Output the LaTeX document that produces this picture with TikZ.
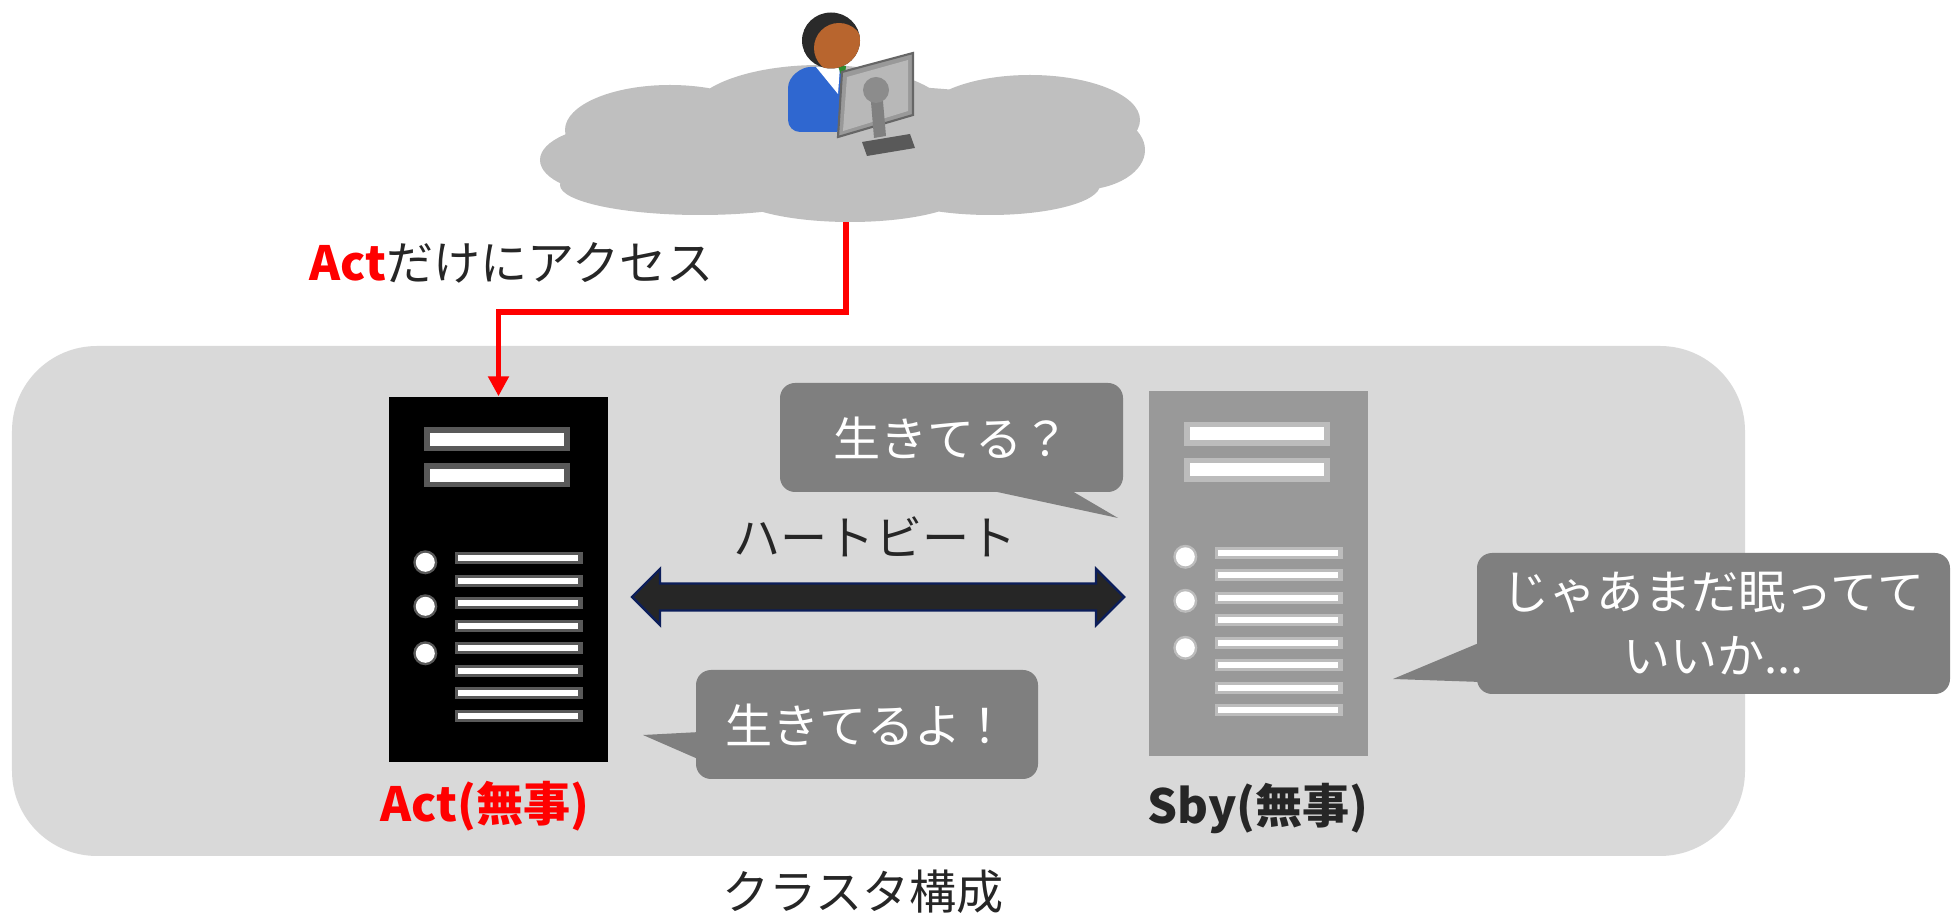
\documentclass[tikz,border=0pt]{standalone}
\usepackage{fontspec}
\setmainfont{Noto Sans CJK JP}
\usepackage{xcolor}
\usetikzlibrary{positioning, calc, arrows.meta}

\definecolor{clustergray}{HTML}{D9D9D9}
\definecolor{cloudgray}{HTML}{BFBFBF}
\definecolor{bubblegray}{HTML}{7F7F7F}
\definecolor{sbygray}{HTML}{999999}
\definecolor{txtgray}{HTML}{262626}
\definecolor{hbedge}{HTML}{0C1E5A}
\definecolor{accessred}{HTML}{FF0000}
\definecolor{bodyblue}{HTML}{2F67D0}
\definecolor{facebrown}{HTML}{B8652E}
\definecolor{hairblack}{HTML}{2A2A2A}
\definecolor{tiegreen}{HTML}{2E8B2E}

% frente do servidor (origem no canto superior esquerdo)
\tikzset{
  srvface/.pic={
    % barras do topo
    \foreach \yy in {0.43,0.79}{
      \fill[white, opacity=0.35] (0.36,-\yy+0.12) rectangle (1.82,-\yy-0.12);
      \fill[white] (0.42,-\yy+0.065) rectangle (1.76,-\yy-0.065);
    }
    % luzes
    \foreach \yy in {1.66,2.10,2.57}{
      \fill[white, opacity=0.35] (0.37,-\yy) circle (0.12);
      \fill[white] (0.37,-\yy) circle (0.095);
    }
    % ranhuras
    \foreach \i in {0,...,7}{
      \pgfmathsetmacro\yy{1.62+0.225*\i}
      \fill[white, opacity=0.35] (0.67,-\yy+0.06) rectangle (1.95,-\yy-0.06);
      \fill[white] (0.70,-\yy+0.03) rectangle (1.90,-\yy-0.03);
    }
  }
}

\begin{document}
\begin{tikzpicture}[font=\fontsize{13.4}{18.4}\selectfont, text=txtgray,
    srv/.style={minimum width=2.19cm, minimum height=3.65cm, inner sep=0},
    srvname/.style={font=\fontsize{13.4}{16}\selectfont\bfseries},
    bubble/.style={fill=bubblegray, rounded corners=0.15cm, text=white, inner sep=0, align=center},
    access/.style={draw=accessred, line width=1.7pt, -{Triangle[length=0.2cm, width=0.2cm]}}]

    \useasboundingbox (0,0) rectangle (19.51,9.12);

    % Cluster
    \node[fill=clustergray, rounded corners=0.85cm, minimum width=17.33cm, minimum height=5.10cm, inner sep=0] (cluster) at (8.785,3.11) {};
    \node (clustername) at (8.63,0.20) {クラスタ構成};

    % Servidores
    \node[srv, fill=black] (act) at (4.985,3.325) {};
    \node[srv, fill=sbygray] (sby) at (12.585,3.38) {};
    \pic at (act.north west) {srvface};
    \pic at (sby.north west) {srvface};
    \node[srvname, text=accessred] (actname) at (4.85,1.06) {Act(無事)};
    \node[srvname] (sbyname) at (12.58,1.03) {Sby(無事)};

    % Acesso
    \coordinate (cloudbottom) at (8.46,7.05);
    \node[anchor=base west] (accesslabel) at (2.97,6.31) {\textbf{\textcolor{accessred}{Act}}だけにアクセス};
    \draw[access] (cloudbottom) |- ($(act.north)+(0,0.84)$) -- (act.north);

    % Nuvem
    \fill[cloudgray] (8.43,7.67) ellipse (2.80 and 0.60)
        (8.20,7.97) ellipse (1.30 and 0.50)
        (6.70,7.82) ellipse (1.05 and 0.45)
        (10.30,7.92) ellipse (1.10 and 0.45)
        (6.20,7.52) ellipse (0.80 and 0.35)
        (10.80,7.62) ellipse (0.65 and 0.40)
        (7.00,7.27) ellipse (1.40 and 0.30)
        (8.50,7.22) ellipse (1.20 and 0.32)
        (9.90,7.27) ellipse (1.10 and 0.30);

    % Usuario
    \fill[bodyblue, rounded corners=0.12cm] (7.88,7.80) -- (7.88,8.12) .. controls (7.88,8.36) and (8.02,8.45) .. (8.22,8.45) -- (8.48,8.45) -- (8.48,7.80) -- cycle;
    \fill[white] (8.16,8.45) -- (8.40,8.45) -- (8.38,8.18) -- cycle;
    \fill[tiegreen] (8.38,8.46) -- (8.46,8.46) -- (8.44,8.28) -- cycle;
    \fill[hairblack] (8.31,8.715) ellipse (0.29 and 0.28);
    \begin{scope}
        \clip (8.31,8.715) ellipse (0.29 and 0.28);
        \fill[facebrown] (8.39,8.64) circle (0.25);
    \end{scope}

    % Monitor
    \fill[black!65] (8.62,7.70) -- (9.10,7.78) -- (9.15,7.64) -- (8.67,7.56) -- cycle;
    \filldraw[fill=black!40, draw=black!60, line width=0.6pt] (8.42,8.40) -- (9.13,8.59) -- (9.13,7.97) -- (8.38,7.75) -- cycle;
    \fill[black!28] (8.47,8.35) -- (9.08,8.52) -- (9.08,8.01) -- (8.43,7.81) -- cycle;
    \fill[black!50] (8.70,8.22) -- (8.82,8.22) -- (8.86,7.76) -- (8.74,7.74) -- cycle;
    \fill[black!45] (8.76,8.22) circle (0.13);

    % Heartbeat
    \coordinate (hbL) at (6.32,3.15);
    \coordinate (hbR) at (11.24,3.15);
    \filldraw[fill=txtgray, draw=hbedge, line width=0.7pt] (hbL) -- ($(hbL)+(0.28,0.28)$) -- ($(hbL)+(0.28,0.135)$)
        -- ($(hbR)+(-0.28,0.135)$) -- ($(hbR)+(-0.28,0.28)$) -- (hbR) -- ($(hbR)+(-0.28,-0.28)$)
        -- ($(hbR)+(-0.28,-0.135)$) -- ($(hbL)+(0.28,-0.135)$) -- ($(hbL)+(0.28,-0.28)$) -- cycle;
    \node (hblabel) at (8.75,3.75) {ハートビート};

    % Baloes
    \node[bubble, minimum width=3.43cm, minimum height=1.09cm] (ask) at (9.515,4.745) {生きてる？};
    \coordinate (asktip) at (11.18,3.94);
    \fill[bubblegray] ($(ask.south west)+(1.98,0.05)$) -- (asktip) -- ($(ask.south west)+(2.87,0.05)$) -- cycle;

    \node[bubble, minimum width=3.42cm, minimum height=1.09cm] (reply) at (8.67,1.875) {生きてるよ！};
    \coordinate (replytip) at (6.43,1.77);
    \fill[bubblegray] ($(reply.west)+(0.05,-0.075)$) -- (replytip) -- ($(reply.west)+(0.05,-0.355)$) -- cycle;

    \node[bubble, minimum width=4.73cm, minimum height=1.41cm] (sleep) at (17.135,2.885) {じゃあまだ眠ってて\\いいか...};
    \coordinate (sleeptip) at (13.93,2.33);
    \fill[bubblegray] ($(sleep.west)+(0.05,-0.185)$) -- (sleeptip) -- ($(sleep.west)+(0.05,-0.585)$) -- cycle;

\end{tikzpicture}
\end{document}
